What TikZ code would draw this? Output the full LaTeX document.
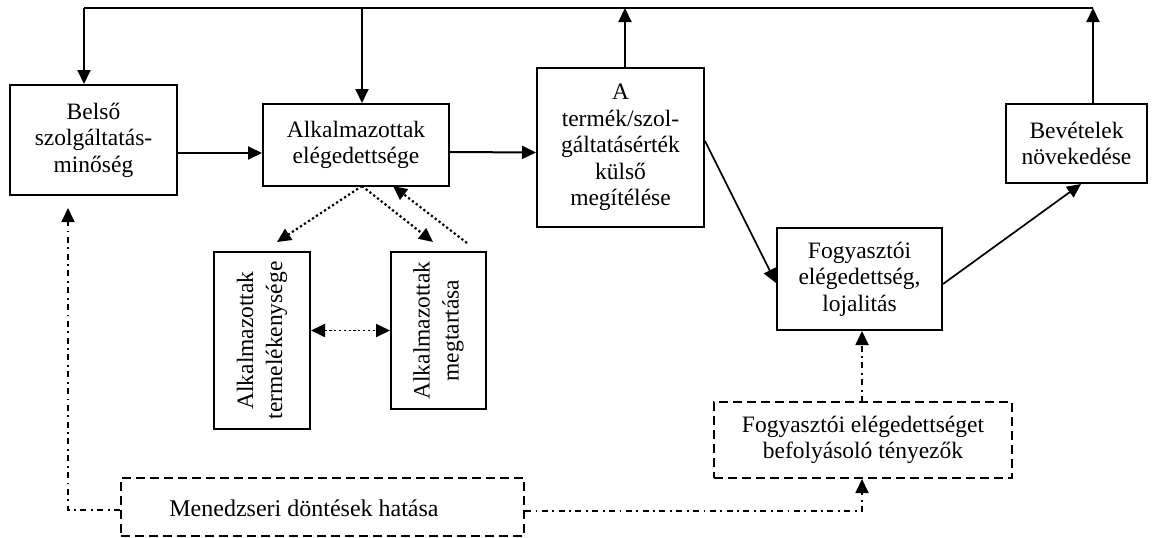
\documentclass[tikz,border=0pt]{standalone}
\usepackage{fontspec}
\setmainfont{Liberation Serif}
\usetikzlibrary{arrows.meta}
\begin{document}
\begin{tikzpicture}[x=1pt,y=-1pt,
  box/.style={draw,line width=2pt,inner sep=0pt,align=center,
    font=\fontsize{23.5}{26.5}\selectfont},
  dbox/.style={box,dash pattern=on 9pt off 5pt},
  tip/.style={-{Triangle[length=14pt,width=13pt]}},
  arr/.style={line width=2pt,tip},
  dotarr/.style={line width=2.2pt,dash pattern=on 2.2pt off 2.6pt,tip},
  dashdot/.style={line width=1.8pt,dash pattern=on 6pt off 4.5pt on 1.8pt off 4.5pt},
  dasharr/.style={dashdot,tip}]
\useasboundingbox (0,0) rectangle (1160,538);
% boxes
\node[box,minimum width=167pt,minimum height=110pt] (belso) at (93.5,140) {Belső\\szolgáltatás-\\minőség};
\node[box,minimum width=186pt,minimum height=82pt] (alk) at (356,145) {Alkalmazottak\\elégedettsége};
\node[box,minimum width=167pt,minimum height=159pt] (ater) at (620.5,147.5) {A\\termék/szol-\\gáltatásérték\\külső\\megítélése};
\node[box,minimum width=141pt,minimum height=79pt] (bev) at (1076.5,143.5) {Bevételek\\növekedése};
\node[box,minimum width=165pt,minimum height=102pt] (fogy) at (859.5,279) {Fogyasztói\\elégedettség,\\lojalitás};
\node[box,minimum width=96pt,minimum height=177pt] (prod) at (262,340.5) {};
\node[rotate=90,align=center,font=\fontsize{23.5}{29}\selectfont] (prodt) at (prod.center) {Alkalmazottak\\termelékenysége};
\node[box,minimum width=95pt,minimum height=157pt] (ret) at (438.5,330.5) {};
\node[rotate=90,align=center,font=\fontsize{23.5}{29}\selectfont] (rett) at (ret.center) {Alkalmazottak\\megtartása};
\node[dbox,minimum width=298pt,minimum height=76pt] (fact) at (863,440) {Fogyasztói elégedettséget\\befolyásoló tényezők};
\node[dbox,minimum width=403pt,minimum height=58pt] (men) at (322.5,507) {};
\node[font=\fontsize{24}{27}\selectfont] (ment) at (304,508) {Menedzseri döntések hatása};
% top feedback line
\coordinate (tl) at (84,8);
\coordinate (tr) at (1093,8);
\coordinate (tm) at (362,8);
\coordinate (ta) at (625,8);
\draw[line width=2pt] (tl) -- (tr);
\draw[arr] (tl) -- (tl |- belso.north);
\draw[arr] (tm) -- (tm |- alk.north);
\draw[arr] (ta |- ater.north) -- (ta);
\draw[arr] (tr |- bev.north) -- (tr);
% main flow
\draw[arr] ([yshift=-13pt]belso.east) -- ([yshift=-8pt]alk.west);
\draw[arr] ([yshift=-7pt]alk.east) -- ([yshift=-5pt]ater.west);
\draw[arr,line width=1.7pt] ([yshift=6.5pt]ater.east) -- ([yshift=-4pt]fogy.west);
\draw[arr,line width=1.7pt] ([yshift=-5pt]fogy.east) -- ([xshift=4.5pt]bev.south);
% dotted
\coordinate (d0) at (362,186);
\coordinate (d1) at (277,242);
\coordinate (d2) at (433,242);
\coordinate (d3) at (467,243);
\coordinate (d4) at (393,186);
\draw[dotarr] (d0) -- (d1);
\draw[dotarr] (d0) -- (d2);
\draw[dotarr] (d3) -- (d4);
\draw[dotarr,{Triangle[length=14pt,width=13pt]}-{Triangle[length=14pt,width=13pt]},line width=1.8pt] (prod.east |- ret.west) -- (ret.west);
% dash-dot
\coordinate (l1) at (68,510);
\coordinate (l2) at (68,208);
\coordinate (r1) at (862,511);
\coordinate (r2) at (862,479);
\coordinate (u1) at (862,402);
\coordinate (u2) at (862,331);
\draw[dasharr] (men.west |- l1) -- (l1) -- (l2);
\draw[dasharr] (men.east |- r1) -- (r1) -- (r2);
\draw[dasharr] (u1) -- (u2);
\end{tikzpicture}
\end{document}
